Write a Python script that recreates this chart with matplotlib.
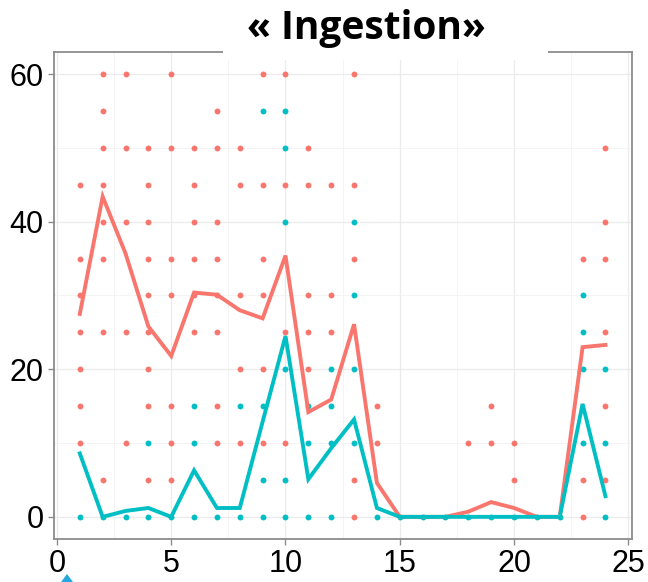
import matplotlib
matplotlib.use("Agg")
from matplotlib import pyplot as plt
from matplotlib.patches import Rectangle, Polygon
from matplotlib.ticker import MultipleLocator

RED = "#F8766D"
CYAN = "#00BFC4"

# mean lines per day
days = list(range(1, 25))
red_mean = [27.5, 43.4, 35.7, 25.8, 21.8, 30.4, 30.1, 28.0, 26.9, 35.4, 14.2, 15.9,
            26.1, 4.6, 0, 0, 0, 0.7, 2.0, 1.2, 0, 0, 23.0, 23.3]
cyan_mean = [8.6, 0, 0.8, 1.2, 0, 6.3, 1.2, 1.2, 12.9, 24.5, 5.1, 9.3,
             13.2, 1.2, 0, 0, 0, 0, 0, 0, 0, 0, 15.3, 2.8]

# individual observations, day -> values
red_obs = {
    1: [45, 35, 30, 25, 20, 15, 10],
    2: [60, 55, 50, 45, 40, 35, 25, 5],
    3: [60, 50, 40, 25, 10],
    4: [50, 45, 40, 35, 30, 25, 20, 15, 5],
    5: [60, 50, 35, 30, 15, 10, 5],
    6: [50, 45, 40, 35, 30, 25],
    7: [55, 50, 40, 35, 30, 25, 15, 10],
    8: [50, 45, 30, 20, 10],
    9: [60, 45, 35, 30, 20, 10],
    10: [60, 45, 25, 10],
    11: [50, 45, 30, 25, 20],
    12: [45, 30, 25],
    13: [60, 45, 35, 5, 0],
    14: [15, 10],
    18: [10],
    19: [15, 10],
    20: [10, 5],
    23: [35, 5, 0],
    24: [50, 40, 35, 25, 15, 5],
}
cyan_obs = {
    1: [0], 2: [0], 3: [0], 4: [10, 0], 5: [0], 6: [15, 10, 0], 7: [0],
    8: [15, 0], 9: [55, 15, 5, 0], 10: [55, 50, 40, 20, 5, 0],
    11: [15, 10, 0], 12: [20, 15, 10, 0], 13: [40, 30, 20, 10], 14: [0],
    15: [0], 16: [0], 17: [0], 18: [0], 19: [0], 20: [0], 21: [0], 22: [0],
    23: [30, 25, 20, 10], 24: [20, 10, 0],
}


def flatten(obs):
    xs, ys = [], []
    for d, vals in obs.items():
        for v in vals:
            xs.append(d)
            ys.append(v)
    return xs, ys


fig = plt.figure(figsize=(6.48, 5.82), dpi=100)
ax = fig.add_axes([0.0826, 0.0739, 0.8923, 0.8368])

rx, ry = flatten(red_obs)
cx, cy = flatten(cyan_obs)
ax.scatter(rx, ry, s=18, color=RED, linewidths=0, zorder=3)
ax.scatter(cx, cy, s=18, color=CYAN, linewidths=0, zorder=3)
ax.plot(days, red_mean, color=RED, linewidth=2.8, zorder=4, solid_joinstyle="miter")
ax.plot(days, cyan_mean, color=CYAN, linewidth=2.8, zorder=5, solid_joinstyle="miter")

ax.set_xlim(-0.15, 25.15)
ax.set_ylim(-3, 63)
ax.xaxis.set_major_locator(MultipleLocator(5))
ax.xaxis.set_minor_locator(MultipleLocator(2.5))
ax.yaxis.set_major_locator(MultipleLocator(20))
ax.yaxis.set_minor_locator(MultipleLocator(10))
ax.grid(which="major", color="#EBEBEB", linewidth=0.9, zorder=0)
ax.grid(which="minor", color="#F2F2F2", linewidth=0.6, zorder=0)
ax.set_axisbelow(True)

for sp in ax.spines.values():
    sp.set_color("#8C8C8C")
    sp.set_linewidth(1.3)
ax.tick_params(which="major", length=4, width=1, color="#8C8C8C",
               labelsize=22, labelcolor="black", pad=3)
ax.tick_params(which="minor", length=0)
for lab in ax.get_xticklabels() + ax.get_yticklabels():
    lab.set_fontfamily("Liberation Sans")

# title box sitting over the top border
fig.patches.append(Rectangle((223 / 648, 1 - 60 / 582), (548 - 223) / 648, 60 / 582,
                             transform=fig.transFigure, facecolor="white",
                             edgecolor="none", zorder=5))
fig.text(366 / 648, 1 - 29 / 582, "« Ingestion»", ha="center", va="center",
         fontsize=28, fontweight="bold", family="Open Sans", zorder=6)

# partial arrow tip at the bottom edge
fig.patches.append(Polygon([(61 / 648, 0), (67 / 648, 8 / 582), (73 / 648, 0)],
                           closed=True, transform=fig.transFigure,
                           facecolor="#29A8E0", edgecolor="none", zorder=6))

fig.savefig("out.png", dpi=100)
